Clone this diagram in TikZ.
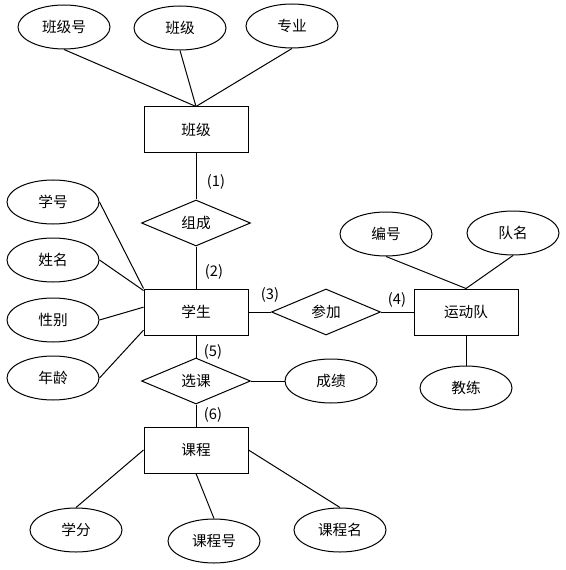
\documentclass[tikz,border=0pt]{standalone}
\usepackage{fontspec}
\setmainfont{Noto Sans CJK SC}
\usetikzlibrary{shapes.geometric}

\begin{document}
\begin{tikzpicture}[x=0.75pt,y=-0.75pt,line width=0.75pt,
		font=\fontsize{11}{13}\selectfont,
		entity/.style={draw,rectangle,minimum width=78pt,minimum height=34.5pt,inner sep=0pt},
		attr/.style={draw,ellipse,minimum width=69pt,minimum height=33pt,inner sep=0pt},
		rel/.style={draw,diamond,minimum width=81.75pt,minimum height=34.5pt,inner sep=0pt},
		card/.style={inner sep=0pt}]
						\useasboundingbox (0,0) rectangle (566,570);
						\node[entity] (bj) at (196,130) {班级};
						\node[entity] (xs) at (196,312) {学生};
						\node[entity] (ydd) at (466,312) {运动队};
						\node[entity] (kc) at (196,450) {课程};
						
						\node[rel] (zc) at (196,223) {组成};
						\node[rel] (cj) at (326,312) {参加};
						\node[rel] (xk) at (196,381) {选课};
						
						\node[attr] (bjh) at (64,27) {班级号};
						\node[attr] (bjm) at (180,28) {班级};
						\node[attr] (zy) at (292,26) {专业};
						\node[attr] (xh) at (53,202) {学号};
						\node[attr] (xm) at (53,260) {姓名};
						\node[attr] (xb) at (53,320) {性别};
						\node[attr] (nl) at (53,378) {年龄};
						\node[attr] (bh) at (386,234) {编号};
						\node[attr] (dm) at (513,233) {队名};
						\node[attr] (jl) at (466,388) {教练};
						\node[attr] (chj) at (331,381) {成绩};
						\node[attr] (xf) at (76,530) {学分};
						\node[attr] (kch) at (214,541) {课程号};
						\node[attr] (kcm) at (340,530) {课程名};
						
						\node[card] (c1) at (216,182) {(1)};
						\node[card] (c2) at (214,272) {(2)};
						\node[card] (c3) at (270,295) {(3)};
						\node[card] (c4) at (397,300) {(4)};
						\node[card] (c5) at (213,352) {(5)};
						\node[card] (c6) at (213,415) {(6)};
						
						\draw (bjh.south) -- (bj.north);
						\draw (bjm.south) -- (bj.north);
						\draw (zy.south) -- (bj.north);
						\draw (bj) -- (zc);
						\draw (zc) -- (xs);
						\draw (xh.east) -- (xs.north west);
						\draw (xm.east) -- ([yshift=-1.5pt]xs.north west);
						\draw (xb.east) -- ([yshift=-14pt]xs.north west);
						\draw (nl.east) -- ([yshift=4pt]xs.south west);
						\draw (xs) -- (cj);
						\draw (cj) -- (ydd);
						\draw (bh.south) -- (ydd.north);
						\draw (dm.south) -- (ydd.north);
						\draw (jl) -- (ydd);
						\draw (xs) -- (xk);
						\draw (xk) -- (chj);
						\draw (xk) -- (kc);
						\draw (xf.north) -- (kc.west);
						\draw (kch.north) -- (kc.south);
						\draw (kcm.north) -- (kc.east);
					\end{tikzpicture}
\end{document}
